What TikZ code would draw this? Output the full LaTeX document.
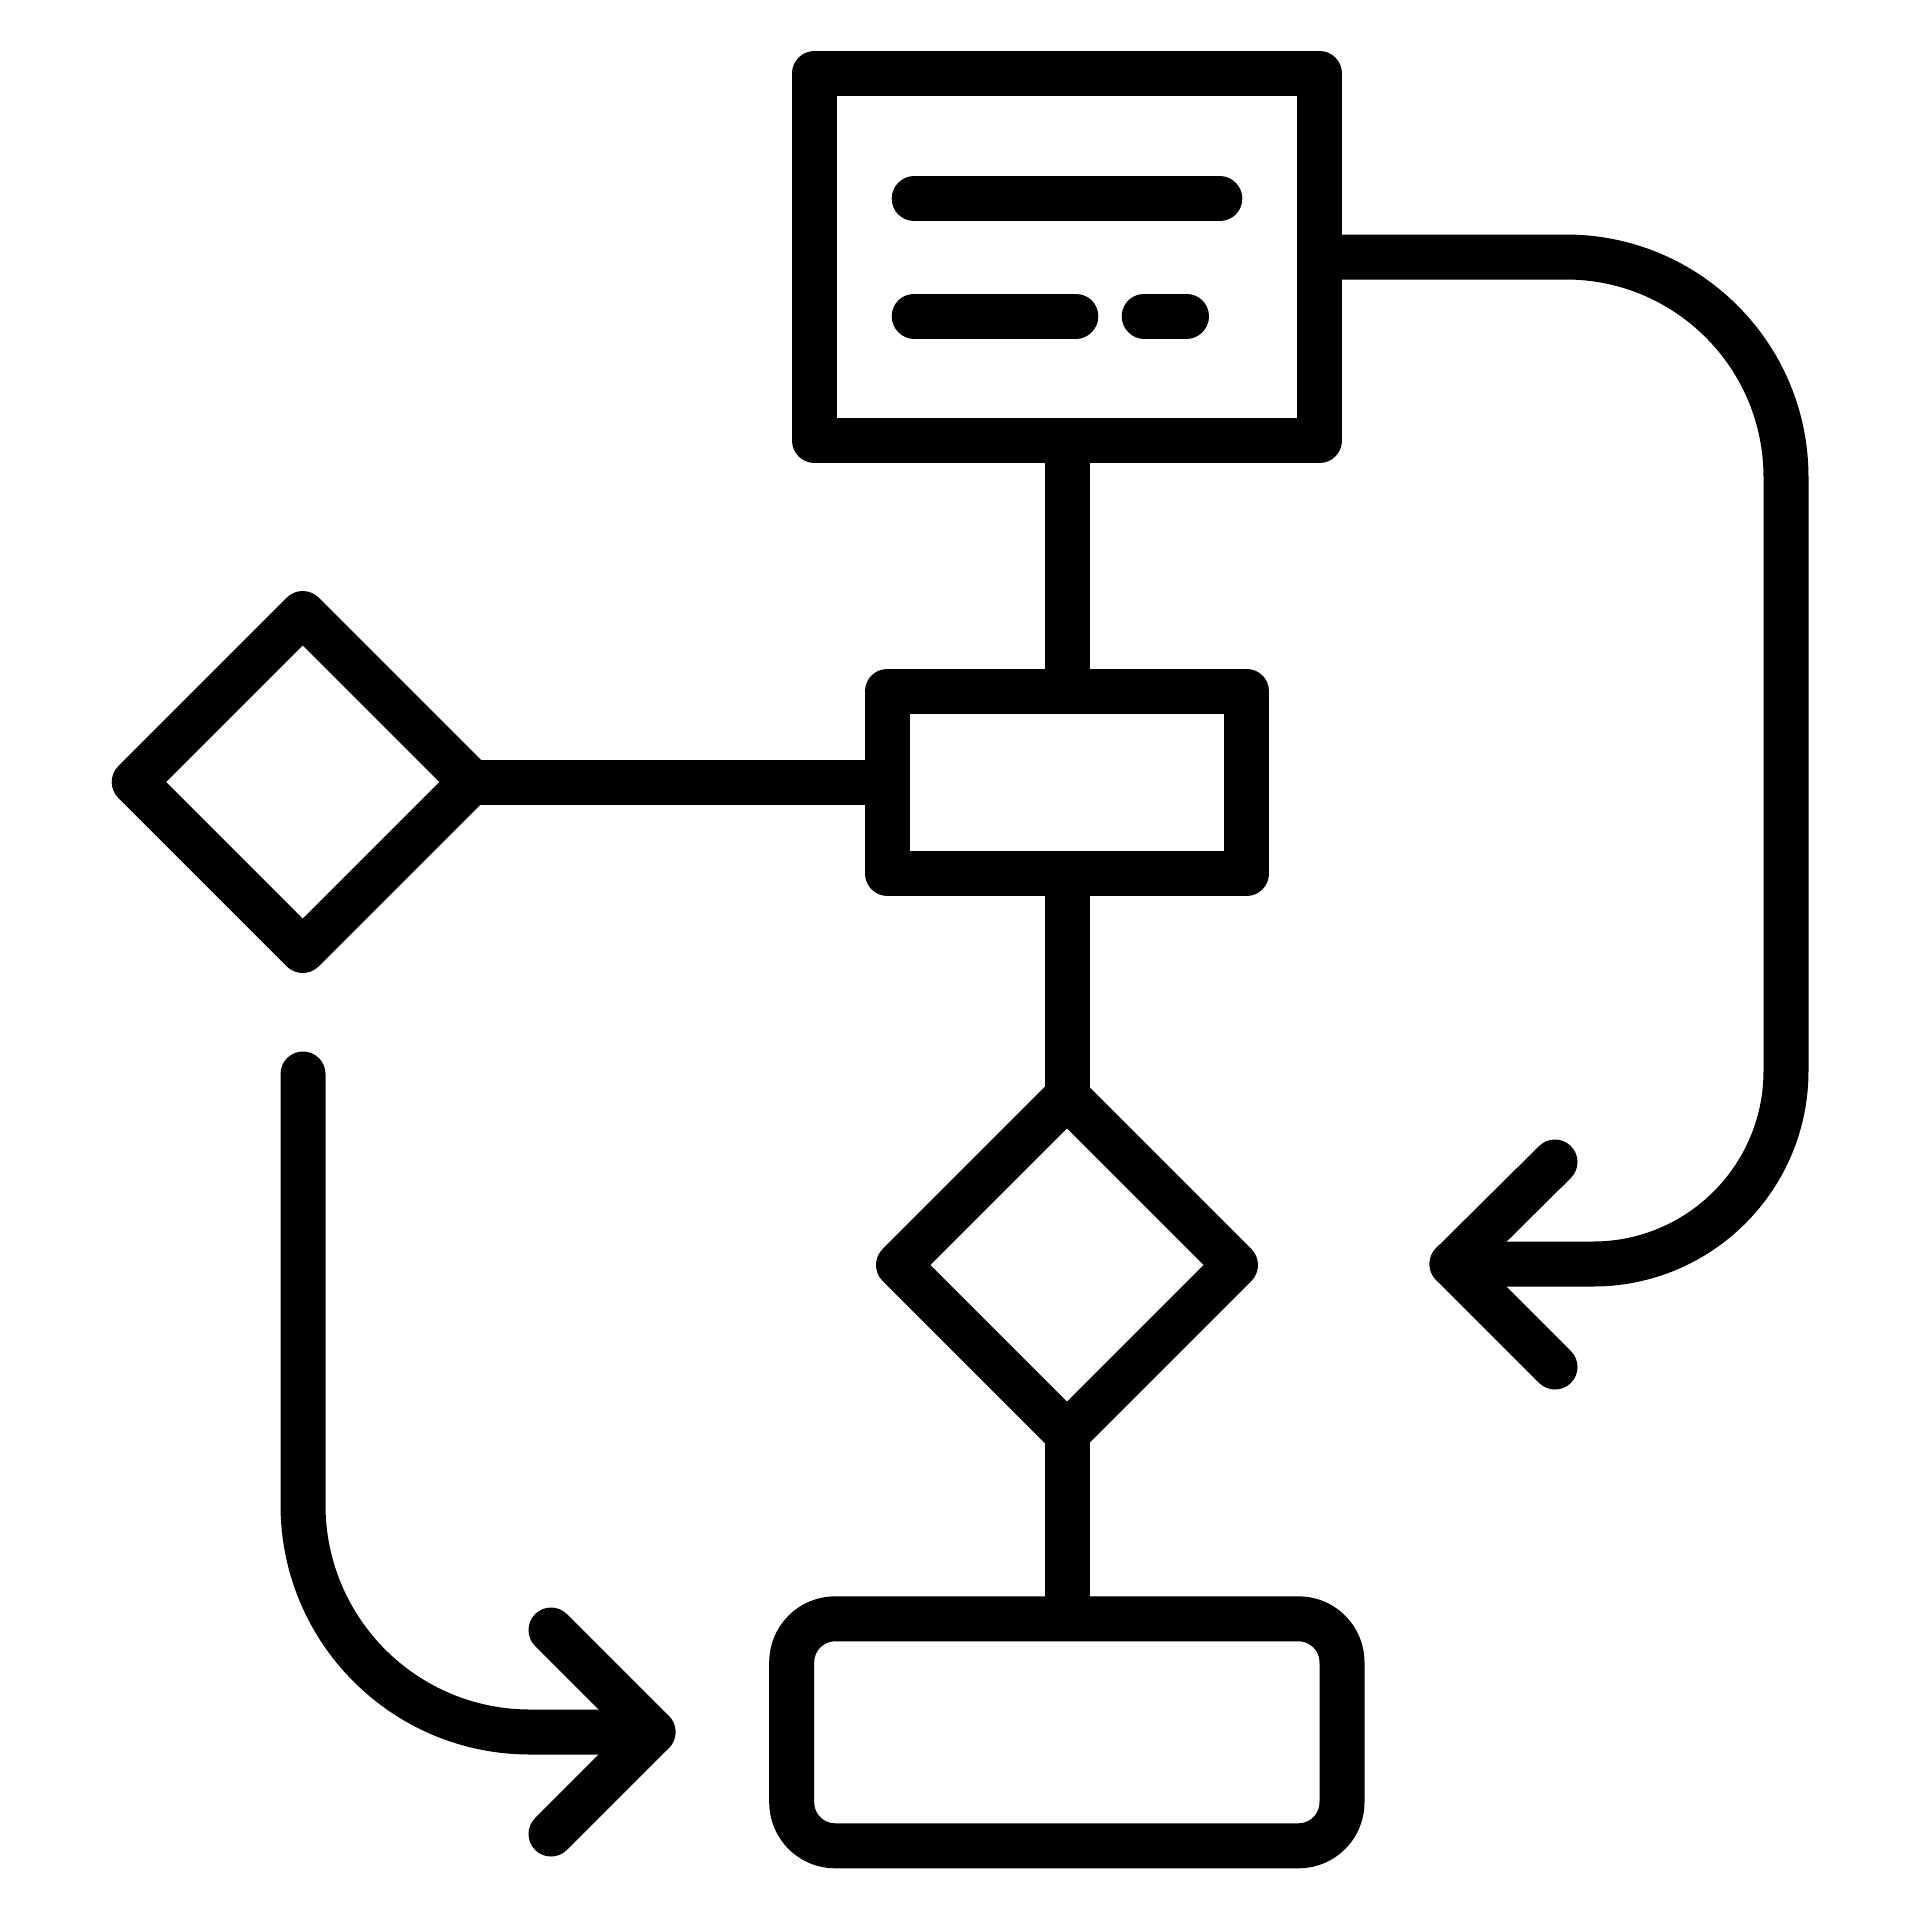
\documentclass[tikz,border=0pt]{standalone}
\begin{document}
\begin{tikzpicture}[x=0.1mm,y=-0.1mm,
  stroke/.style={draw=black,line width=4.5mm,line join=round,line cap=round},
  link/.style={draw=black,line width=4.5mm,line cap=butt}]
\useasboundingbox (0,0) rectangle (1920,1920);
% key points
\coordinate (tbTL) at (814.5,73.5);
\coordinate (tbBR) at (1319.5,440.5);
\coordinate (tbB) at (1067,440.5);
\coordinate (tbR) at (1319.5,257);
\coordinate (mbTL) at (887.5,691);
\coordinate (mbBR) at (1246.5,873.5);
\coordinate (mbT) at (1067,691);
\coordinate (mbB) at (1067,873.5);
\coordinate (mbL) at (887.5,782);
\coordinate (ldL) at (134.2,782);
\coordinate (ldT) at (302.7,613.5);
\coordinate (ldR) at (471.2,782);
\coordinate (ldB) at (302.7,950.5);
\coordinate (cdL) at (898.5,1265);
\coordinate (cdT) at (1067,1096.5);
\coordinate (cdR) at (1235.5,1265);
\coordinate (cdB) at (1067,1433.5);
\coordinate (bbTL) at (791.7,1618.8);
\coordinate (bbBR) at (1342,1845.8);
\coordinate (bbT) at (1067,1618.8);
% boxes
\draw[stroke] (tbTL) rectangle (tbBR);
\draw[stroke] (mbTL) rectangle (mbBR);
\draw[stroke,rounded corners=4.35mm] (bbTL) rectangle (bbBR);
% diamonds
\draw[stroke] (ldL) -- (ldT) -- (ldR) -- (ldB) -- cycle;
\draw[stroke] (cdL) -- (cdT) -- (cdR) -- (cdB) -- cycle;
% text lines in top box
\draw[stroke] (914.2,198.8) -- (1219.8,198.8);
\draw[stroke] (914.2,316) -- (1075.8,316);
\draw[stroke] (1144.2,316) -- (1186.5,316);
% connectors
\draw[link] (tbB) -- (mbT);
\draw[link] (mbB) -- (cdT);
\draw[link] (cdB) -- (bbT);
\draw[link] (ldR) -- (mbL);
% right return arrow
\coordinate (raTip) at (1452,1264);
\draw[stroke] (tbR) -- (1566,257) .. controls (1687.5,257) and (1786,355.5) .. (1786,477)
  -- (1786,1071) .. controls (1786,1177.6) and (1699.6,1264) .. (1593,1264) -- (raTip);
\draw[stroke] (1555,1162) -- (raTip) -- (1555,1367);
% left bottom arrow
\coordinate (laTip) at (653,1732);
\draw[stroke] (303,1074) -- (303,1505) .. controls (303,1630.4) and (404.4,1732) .. (530,1732) -- (laTip);
\draw[stroke] (551,1630) -- (laTip) -- (551,1834);
\end{tikzpicture}
\end{document}
